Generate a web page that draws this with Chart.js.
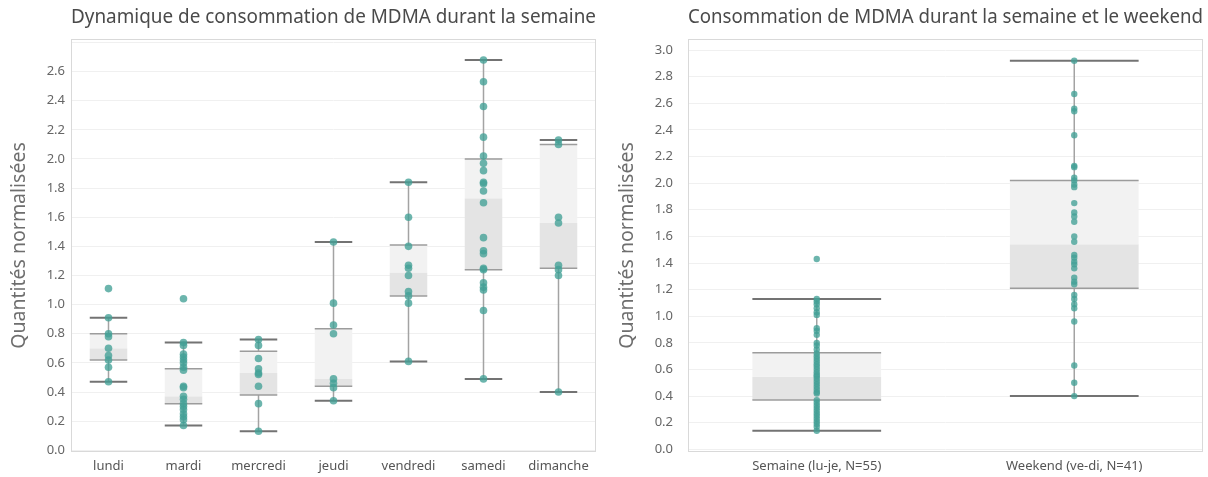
<!DOCTYPE html>
<html>
<head>
<meta charset="utf-8">
<script src="https://cdn.jsdelivr.net/npm/chart.js@4.4.1/dist/chart.umd.min.js"></script>
<style>
  html, body { margin: 0; padding: 0; background: #fff; }
  #wrap { position: relative; width: 1208px; height: 477px; }
  .pane { position: absolute; top: 0; width: 604px; height: 477px; }
</style>
</head>
<body>
<div id="wrap">
  <div class="pane" style="left:0"><canvas id="dayChart"></canvas></div>
  <div class="pane" style="left:604px"><canvas id="splitChart"></canvas></div>
</div>
<script>
// values
const days = ['lundi', 'mardi', 'mercredi', 'jeudi', 'vendredi', 'samedi', 'dimanche'];
const lundiPts = [1.11, 0.91, 0.80, 0.78, 0.70, 0.65, 0.62, 0.57, 0.47];
const mardiPts = [1.04, 0.74, 0.72, 0.66, 0.64, 0.62, 0.60, 0.57, 0.55, 0.44, 0.43, 0.37, 0.35, 0.32, 0.30, 0.28, 0.25, 0.23, 0.21, 0.17];
const mercrediPts = [0.76, 0.72, 0.63, 0.56, 0.53, 0.52, 0.44, 0.32, 0.13];
const jeudiPts = [1.43, 1.01, 0.86, 0.80, 0.49, 0.46, 0.43, 0.34];
const vendrediPts = [1.84, 1.60, 1.40, 1.27, 1.25, 1.20, 1.09, 1.06, 1.01, 0.61];
const samediPts = [2.68, 2.53, 2.36, 2.15, 2.02, 1.97, 1.92, 1.84, 1.83, 1.78, 1.70, 1.46, 1.37, 1.35, 1.25, 1.24, 1.15, 1.12, 1.10, 0.96, 0.49];
const dimanchePts = [2.13, 2.10, 1.60, 1.56, 1.27, 1.24, 1.20, 0.40];

const dayLow = [0.47, 0.17, 0.13, 0.34, 0.61, 0.49, 0.40];
const dayQ1 = [0.62, 0.32, 0.38, 0.44, 1.06, 1.24, 1.25];
const dayMedian = [0.70, 0.37, 0.53, 0.49, 1.22, 1.73, 1.56];
const dayQ3 = [0.80, 0.56, 0.68, 0.835, 1.41, 2.00, 2.10];
const dayHigh = [0.91, 0.74, 0.76, 1.43, 1.84, 2.68, 2.13];

const groups = ['Semaine (lu-je, N=55)', 'Weekend (ve-di, N=41)'];
const semainePts = [1.43, 1.13, 1.11, 1.09, 1.06, 1.03, 1.01, 0.91, 0.89, 0.86, 0.80, 0.78, 0.75, 0.72, 0.70, 0.68,
  0.66, 0.64, 0.62, 0.60, 0.58, 0.56, 0.55, 0.53, 0.51, 0.49, 0.47, 0.45, 0.43, 0.42, 0.37, 0.35, 0.33, 0.31,
  0.29, 0.27, 0.25, 0.23, 0.21, 0.19, 0.17, 0.14];
const weekendPts = [2.92, 2.67, 2.56, 2.54, 2.36, 2.13, 2.12, 2.04, 2.02, 1.99, 1.97, 1.85, 1.78, 1.75, 1.71, 1.60,
  1.56, 1.46, 1.44, 1.41, 1.39, 1.36, 1.29, 1.26, 1.24, 1.16, 1.13, 1.09, 1.06, 0.96, 0.63, 0.50, 0.40];

const groupLow = [0.14, 0.40];
const groupQ1 = [0.37, 1.21];
const groupMedian = [0.545, 1.54];
const groupQ3 = [0.725, 2.02];
const groupHigh = [1.13, 2.92];

const FONT = "'Noto Sans', 'Open Sans', sans-serif";

// whiskers + quartile lines, drawn just before the dots
const boxLines = {
  id: 'boxLines',
  beforeDatasetDraw(chart, args, opts) {
    if (args.index !== 2 || !opts.labels) return;
    const x = chart.scales.x, y = chart.scales.y, ctx = chart.ctx;
    const hw = x.width / opts.labels.length * 0.25;
    ctx.save();
    opts.labels.forEach((lab, i) => {
      const cx = x.getPixelForValue(i);
      // vertical whisker
      ctx.strokeStyle = '#a3a3a3';
      ctx.lineWidth = 1.5;
      ctx.beginPath();
      ctx.moveTo(cx, y.getPixelForValue(opts.high[i]));
      ctx.lineTo(cx, y.getPixelForValue(opts.q3[i]));
      ctx.moveTo(cx, y.getPixelForValue(opts.q1[i]));
      ctx.lineTo(cx, y.getPixelForValue(opts.low[i]));
      ctx.stroke();
      // quartile edges
      ctx.strokeStyle = '#9c9c9c';
      ctx.lineWidth = 1.5;
      [opts.q1[i], opts.q3[i]].forEach(v => {
        const py = y.getPixelForValue(v);
        ctx.beginPath(); ctx.moveTo(cx - hw, py); ctx.lineTo(cx + hw, py); ctx.stroke();
      });
      // whisker caps
      ctx.strokeStyle = '#737373';
      ctx.lineWidth = 2;
      [opts.low[i], opts.high[i]].forEach(v => {
        const py = y.getPixelForValue(v);
        ctx.beginPath(); ctx.moveTo(cx - hw, py); ctx.lineTo(cx + hw, py); ctx.stroke();
      });
    });
    ctx.restore();
  },
  afterDraw(chart) {
    const a = chart.chartArea, ctx = chart.ctx;
    ctx.save();
    ctx.strokeStyle = '#d9d9d9';
    ctx.lineWidth = 1;
    ctx.strokeRect(a.left + 0.5, a.top + 0.5, a.right - a.left - 1, a.bottom - a.top - 1);
    ctx.restore();
  }
};

function makeBoxChart(id, cfg) {
  const pts = [];
  cfg.points.forEach((arr, i) => arr.forEach(v => pts.push({ x: cfg.labels[i], y: v })));
  return new Chart(document.getElementById(id), {
    type: 'bar',
    data: {
      labels: cfg.labels,
      datasets: [
        { data: cfg.labels.map((_, i) => [cfg.q1[i], cfg.median[i]]), backgroundColor: '#e4e4e4',
          grouped: false, barPercentage: 1, categoryPercentage: 0.5, order: 3 },
        { data: cfg.labels.map((_, i) => [cfg.median[i], cfg.q3[i]]), backgroundColor: '#f2f2f2',
          grouped: false, barPercentage: 1, categoryPercentage: 0.5, order: 2 },
        { type: 'scatter', data: pts, backgroundColor: 'rgba(66,160,150,0.78)', borderWidth: 0,
          pointRadius: cfg.dotRadius, order: 1 }
      ]
    },
    options: {
      responsive: true,
      maintainAspectRatio: false,
      animation: false,
      layout: { padding: { left: 0, right: cfg.padRight, top: 0, bottom: 0 } },
      plugins: {
        legend: { display: false },
        tooltip: { enabled: false },
        boxLines: { labels: cfg.labels, low: cfg.low, q1: cfg.q1, q3: cfg.q3, high: cfg.high },
        title: {
          display: true, text: cfg.title, fullSize: false, color: '#4a4a4a',
          font: { family: FONT, size: 19, weight: 'normal', lineHeight: 1.2 },
          padding: { top: 6, bottom: 10.2 }
        }
      },
      scales: {
        x: {
          type: 'category',
          afterFit(s) { s.height = 25; },
          grid: { display: false, drawTicks: false },
          border: { display: false },
          ticks: { color: '#555', padding: 6, font: { family: FONT, size: 13 }, maxRotation: 0 }
        },
        y: {
          min: cfg.min, max: cfg.max,
          afterFit(s) { s.width = cfg.yWidth; },
          grid: { color: '#f0f0f0', drawTicks: false },
          border: { display: false },
          ticks: {
            stepSize: 0.2, includeBounds: false, maxTicksLimit: 40, padding: cfg.tickPad,
            color: '#666', font: { family: FONT, size: 13 },
            callback: v => (v > cfg.labelMax ? '' : v.toFixed(1))
          },
          title: {
            display: true, text: 'Quantités normalisées', color: '#6e6e6e',
            font: { family: FONT, size: 19.5, lineHeight: 1.2 },
            padding: { top: cfg.titlePad, bottom: 0 }
          }
        }
      }
    },
    plugins: [boxLines]
  });
}

makeBoxChart('dayChart', {
  title: 'Dynamique de consommation de MDMA durant la semaine',
  labels: days,
  points: [lundiPts, mardiPts, mercrediPts, jeudiPts, vendrediPts, samediPts, dimanchePts],
  low: dayLow, q1: dayQ1, median: dayMedian, q3: dayQ3, high: dayHigh,
  min: -0.012, max: 2.824, labelMax: 2.7, yWidth: 71, padRight: 8, tickPad: 6, titlePad: 8, dotRadius: 3.8
});

makeBoxChart('splitChart', {
  title: 'Consommation de MDMA durant la semaine et le weekend',
  labels: groups,
  points: [semainePts, weekendPts],
  low: groupLow, q1: groupQ1, median: groupMedian, q3: groupQ3, high: groupHigh,
  min: -0.02, max: 3.083, labelMax: 3.05, yWidth: 84, padRight: 5, tickPad: 15, titlePad: 12, dotRadius: 3.2
});
</script>
</body>
</html>
